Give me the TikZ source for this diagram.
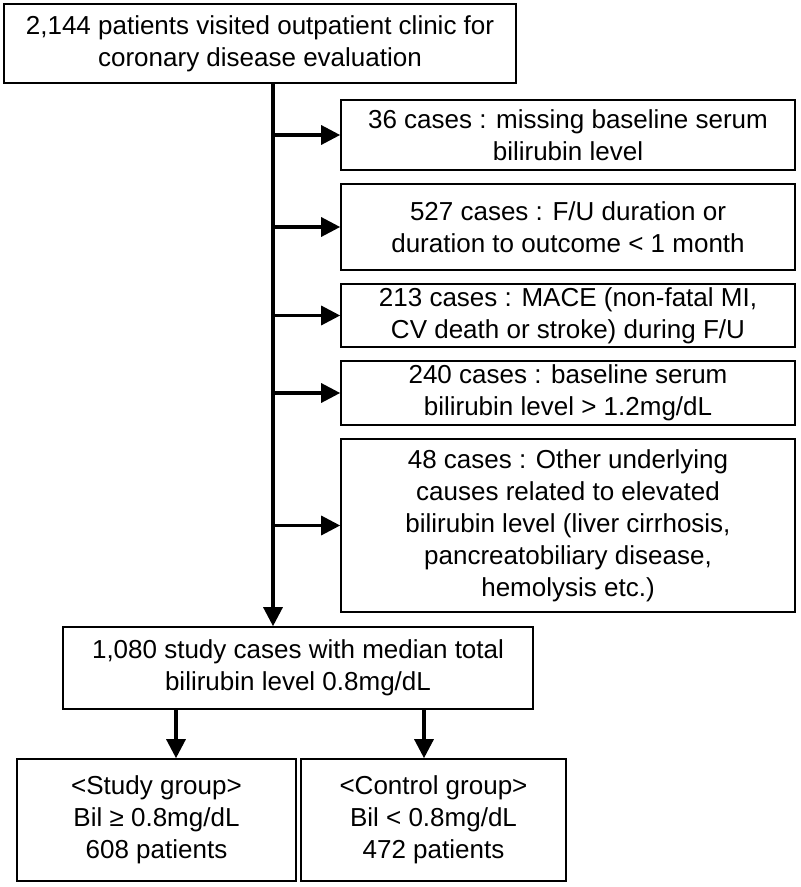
\documentclass[tikz,border=0pt]{standalone}
\usepackage{fontspec}
\setmainfont{Liberation Sans}
\usetikzlibrary{arrows.meta, positioning, calc}

\begin{document}
\begin{tikzpicture}[x=0.5pt, y=-0.5pt,
    box/.style={draw, line width=0.8pt, align=center, inner sep=0pt, font=\fontsize{13}{16}\selectfont},
    excl/.style={box, minimum width=227pt},
    arr/.style={line width=1.6pt, -{Triangle[length=9.5pt,width=9.5pt]}}
]
    \useasboundingbox (0,0) rectangle (800,887);

    % main flow
    \node[box, minimum width=256pt, minimum height=39.5pt] (visit) at (260,43.5)
        {2,144 patients visited outpatient clinic for\\coronary disease evaluation};
    \node[box, minimum width=235pt, minimum height=41pt] (cohort) at (298,668)
        {1,080 study cases with median total\\bilirubin level 0.8mg/dL};
    \node[box, minimum width=139.5pt, minimum height=61pt] (study) at (156.5,820)
        {<Study group>\\Bil ≥ 0.8mg/dL\\608 patients};
    \node[box, minimum width=132.5pt, minimum height=61pt] (control) at (433.5,820)
        {<Control group>\\Bil < 0.8mg/dL\\472 patients};

    % exclusions
    \node[excl, minimum height=35pt] (ex1) at (568,135)
        {36 cases : missing baseline serum\\bilirubin level};
    \node[excl, minimum height=43pt] (ex2) at (568,227)
        {527 cases : F/U duration or\\duration to outcome < 1 month};
    \node[excl, minimum height=31.5pt] (ex3) at (568,315.5)
        {213 cases : MACE (non-fatal MI,\\CV death or stroke) during F/U};
    \node[excl, minimum height=32pt] (ex4) at (568,393)
        {240 cases : baseline serum\\bilirubin level > 1.2mg/dL};
    \node[excl, minimum height=86.5pt] (ex5) at (568,525.5)
        {48 cases : Other underlying\\causes related to elevated\\bilirubin level (liver cirrhosis,\\pancreatobiliary disease,\\hemolysis etc.)};

    \coordinate (spine) at (273,0);
    \coordinate (splitL) at (176,0);
    \coordinate (splitR) at (424,0);

    \draw[arr] (visit.south -| spine) -- (cohort.north -| spine);
    \foreach \n in {ex1,ex2,ex3,ex4,ex5}
        \draw[arr] (spine |- \n.west) -- (\n.west);
    \draw[arr] (cohort.south -| splitL) -- (study.north -| splitL);
    \draw[arr] (cohort.south -| splitR) -- (control.north -| splitR);
\end{tikzpicture}
\end{document}
